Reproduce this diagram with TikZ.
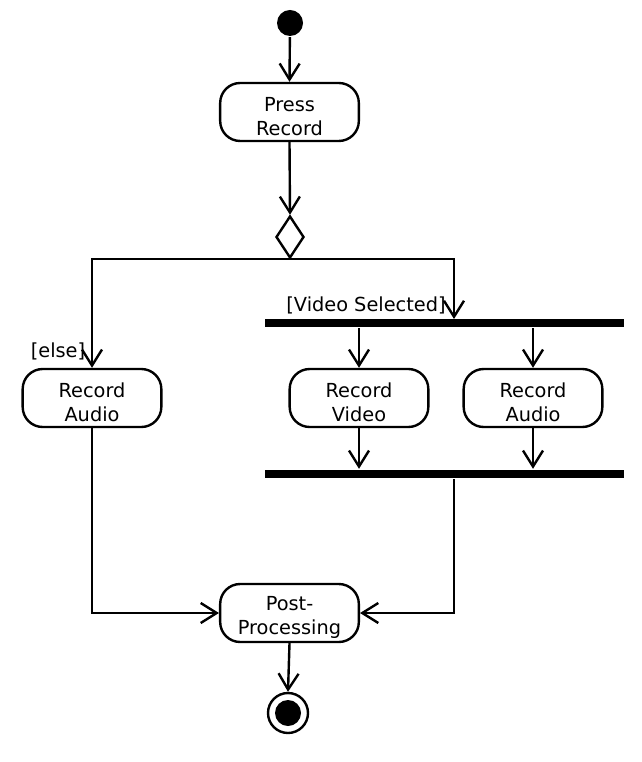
\documentclass[tikz,border=0pt]{standalone}
\usepackage{fontspec}
\setmainfont{DejaVu Sans}
\usetikzlibrary{arrows.meta,shapes.geometric}
\newcommand\actstrut{\rule{0pt}{17pt}}
\begin{document}
\begin{tikzpicture}[x=0.75pt,y=-0.75pt,
  line width=1.8pt,
  act/.style={draw,rounded corners=15pt,minimum width=104pt,minimum height=43.5pt,inner sep=0pt,align=center,font=\fontsize{14.5}{18}\selectfont},
  bar/.style={fill=black,draw=none,minimum width=269.25pt,minimum height=6pt,inner sep=0pt},
  flow/.style={-{Straight Barb[length=12pt,width=15pt,line width=1.8pt]}},
  lbl/.style={font=\fontsize{14.5}{16}\selectfont,inner sep=0pt}]
\useasboundingbox (0,0) rectangle (641,762);
\node[circle,fill=black,minimum size=19.5pt,inner sep=0pt] (init) at (290,23) {};
\node[act] (press) at (289.5,112) {\actstrut Press\\Record};
\node[diamond,draw,minimum width=21pt,minimum height=31.5pt,inner sep=0pt] (dec) at (290,237) {};
\node[act] (recA) at (92,398) {\actstrut Record\\Audio};
\node[bar] (fork) at (444.5,323) {};
\node[bar] (join) at (444.5,474) {};
\node[act] (recV) at (359,398) {\actstrut Record\\Video};
\node[act] (recA2) at (533,398) {\actstrut Record\\Audio};
\node[act] (post) at (289.5,613) {\actstrut Post-\\Processing};
\node[circle,draw,minimum size=30pt,inner sep=0pt] (final) at (288,713) {};
\node[circle,fill=black,minimum size=19.5pt,inner sep=0pt] (finalin) at (final) {};
\coordinate (fin) at (454,319);
\node[lbl] (else) at (58,351) {[else]};
\node[lbl] (vsel) at (366,305) {[Video Selected]};
\draw[flow] (init) -- (press.north);
\draw[flow] (press.south) -- (dec.north);
\draw[flow] (dec.south) -| (recA.north);
\draw[flow] (dec.south) -| (fin);
\draw[flow] (fork.south -| recV.north) -- (recV.north);
\draw[flow] (fork.south -| recA2.north) -- (recA2.north);
\draw[flow] (recV.south) -- (join.north -| recV.south);
\draw[flow] (recA2.south) -- (join.north -| recA2.south);
\draw[flow] (join.south -| fin) |- (post.east);
\draw[flow] (recA.south) |- (post.west);
\draw[flow] (post.south) -- (final.north);
\end{tikzpicture}
\end{document}
